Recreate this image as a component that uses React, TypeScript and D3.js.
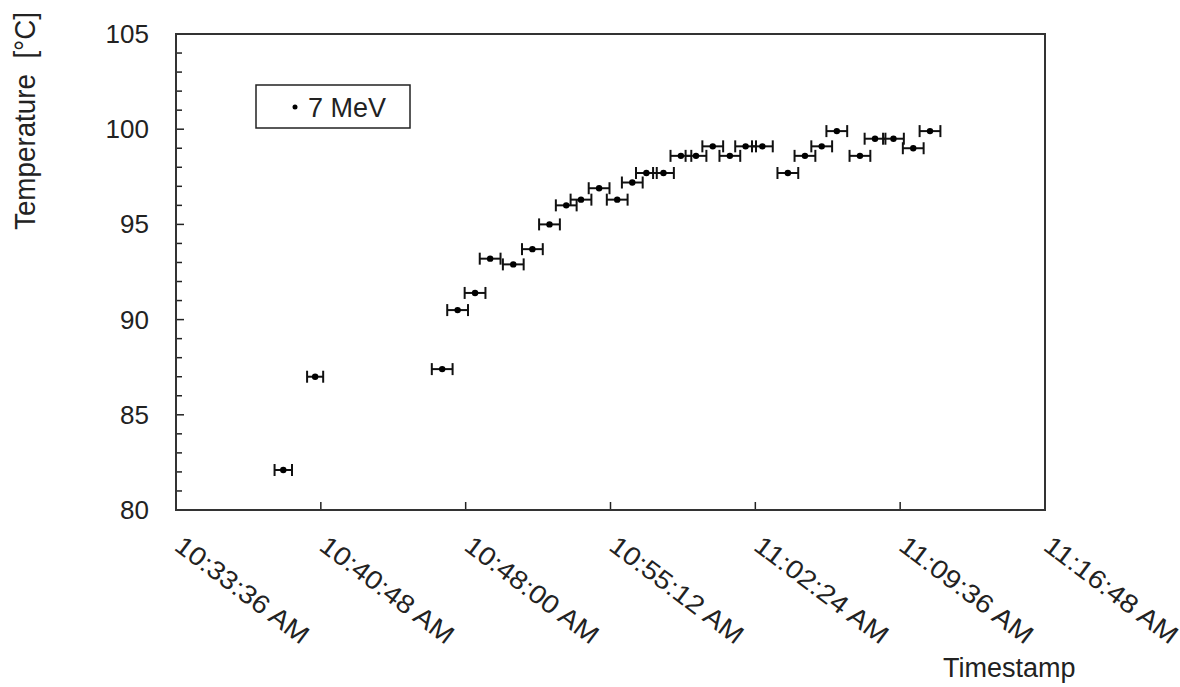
import React, { useRef, useEffect } from 'react';
import * as d3 from 'd3';

// readings (time of day, temperature in °C)
const times = [
  '10:38:56', '10:40:31', '10:46:50', '10:47:36', '10:48:28', '10:49:13', '10:50:22',
  '10:51:19', '10:52:10', '10:53:00', '10:53:44', '10:54:38', '10:55:32', '10:56:17',
  '10:56:59', '10:57:50', '10:58:42', '10:59:27', '11:00:17', '11:01:08', '11:01:55',
  '11:02:45', '11:04:01', '11:04:52', '11:05:42', '11:06:27', '11:07:36', '11:08:21',
  '11:09:16', '11:10:15', '11:11:05'
];
const temps = [
  82.1, 87.0, 87.4, 90.5, 91.4, 93.2, 92.9,
  93.7, 95.0, 96.0, 96.3, 96.9, 96.3, 97.2,
  97.7, 97.7, 98.6, 98.6, 99.1, 98.6, 99.1,
  99.1, 97.7, 98.6, 99.1, 99.9, 98.6, 99.5,
  99.5, 99.0, 99.9
];
// half-width of the time error bars, seconds
const timeErr = [
  26, 24, 31, 31, 31, 31, 31,
  31, 31, 31, 31, 31, 31, 31,
  31, 31, 31, 31, 31, 31, 31,
  31, 31, 31, 31, 31, 31, 31,
  31, 31, 31
];
const xDomain = ['10:33:36', '11:16:48'];
const xTickStep = 7 * 60 + 12; // seconds
const yDomain = [80, 105];
const yTicks = [80, 85, 90, 95, 100, 105];
const seriesName = '7 MeV';

const FONT = '"Liberation Sans", Arial, sans-serif';

const App = () => {
  const ref = useRef(null);

  useEffect(() => {
    const svg = d3.select(ref.current);
    svg.selectAll('*').remove();

    const parse = d3.timeParse('%H:%M:%S');
    const fmt = d3.timeFormat('%-I:%M:%S %p');
    const data = times.map((t, i) => ({ t: parse(t), v: temps[i], e: timeErr[i] }));

    const left = 176, right = 1045, top = 34, bottom = 510;

    const x = d3.scaleTime()
      .domain(xDomain.map(d => parse(d)))
      .range([left, right]);
    const y = d3.scaleLinear().domain(yDomain).range([bottom, top]);

    const t0 = parse(xDomain[0]).getTime();
    const t1 = parse(xDomain[1]).getTime();
    const xTicks = d3.range(t0, t1 + 1, xTickStep * 1000).map(ms => new Date(ms));

    const ink = '#222';

    // y ticks (minor every 1, major every 5), pointing inward
    svg.append('g').selectAll('line')
      .data(d3.range(yDomain[0], yDomain[1] + 1, 1))
      .join('line')
      .attr('x1', left).attr('x2', d => left + (d % 5 === 0 ? 8 : 6))
      .attr('y1', d => y(d)).attr('y2', d => y(d))
      .attr('stroke', ink).attr('stroke-width', 1.5);

    svg.append('g').selectAll('text')
      .data(yTicks)
      .join('text')
      .attr('x', 149).attr('y', d => y(d) + 9)
      .attr('text-anchor', 'end')
      .attr('font-family', FONT).attr('font-size', 26)
      .attr('fill', ink)
      .text(d => d);

    // x ticks
    svg.append('g').selectAll('line')
      .data(xTicks)
      .join('line')
      .attr('x1', d => x(d)).attr('x2', d => x(d))
      .attr('y1', bottom).attr('y2', bottom - 8)
      .attr('stroke', ink).attr('stroke-width', 1.5);

    svg.append('g').selectAll('text')
      .data(xTicks)
      .join('text')
      .attr('transform', d => `translate(${x(d) - 3},${bottom + 39}) rotate(37)`)
      .attr('font-family', FONT).attr('font-size', 26)
      .attr('textLength', 160).attr('lengthAdjust', 'spacingAndGlyphs')
      .attr('fill', ink)
      .text(d => fmt(d));

    // frame
    svg.append('rect')
      .attr('x', left).attr('y', top)
      .attr('width', right - left).attr('height', bottom - top)
      .attr('fill', 'none').attr('stroke', '#333').attr('stroke-width', 2);

    // error bars
    const bars = svg.append('g').attr('stroke', '#111').attr('stroke-width', 2);
    bars.selectAll('line.h')
      .data(data)
      .join('line')
      .attr('class', 'h')
      .attr('x1', d => x(new Date(d.t.getTime() - d.e * 1000)))
      .attr('x2', d => x(new Date(d.t.getTime() + d.e * 1000)))
      .attr('y1', d => y(d.v)).attr('y2', d => y(d.v));
    bars.selectAll('line.cl')
      .data(data)
      .join('line')
      .attr('class', 'cl')
      .attr('x1', d => x(new Date(d.t.getTime() - d.e * 1000)))
      .attr('x2', d => x(new Date(d.t.getTime() - d.e * 1000)))
      .attr('y1', d => y(d.v) - 6).attr('y2', d => y(d.v) + 6);
    bars.selectAll('line.cr')
      .data(data)
      .join('line')
      .attr('class', 'cr')
      .attr('x1', d => x(new Date(d.t.getTime() + d.e * 1000)))
      .attr('x2', d => x(new Date(d.t.getTime() + d.e * 1000)))
      .attr('y1', d => y(d.v) - 6).attr('y2', d => y(d.v) + 6);

    // points
    svg.append('g').selectAll('circle')
      .data(data)
      .join('circle')
      .attr('cx', d => x(d.t)).attr('cy', d => y(d.v))
      .attr('r', 3.2).attr('fill', '#000');

    // legend
    svg.append('rect')
      .attr('x', 256).attr('y', 85).attr('width', 154).attr('height', 43)
      .attr('fill', '#fff').attr('stroke', '#222').attr('stroke-width', 1.5);
    svg.append('circle').attr('cx', 295).attr('cy', 107).attr('r', 2.5).attr('fill', '#000');
    svg.append('text')
      .attr('x', 308).attr('y', 117)
      .attr('font-family', FONT).attr('font-size', 27).attr('fill', ink)
      .text(seriesName);

    // axis titles
    svg.append('text')
      .attr('x', 943).attr('y', 677)
      .attr('font-family', FONT).attr('font-size', 27).attr('fill', ink)
      .text('Timestamp');
    svg.append('text')
      .attr('transform', 'translate(35,230) rotate(-90)')
      .attr('font-family', FONT).attr('font-size', 29).attr('fill', ink)
      .attr('textLength', 218).attr('lengthAdjust', 'spacingAndGlyphs')
      .style('white-space', 'pre')
      .text('Temperature  [°C]');
  }, []);

  return (
    <svg ref={ref} width="1180" height="687"
      style={{ position: 'absolute', left: 0, top: 0, background: '#fff' }}></svg>
  );
};

export default App;
